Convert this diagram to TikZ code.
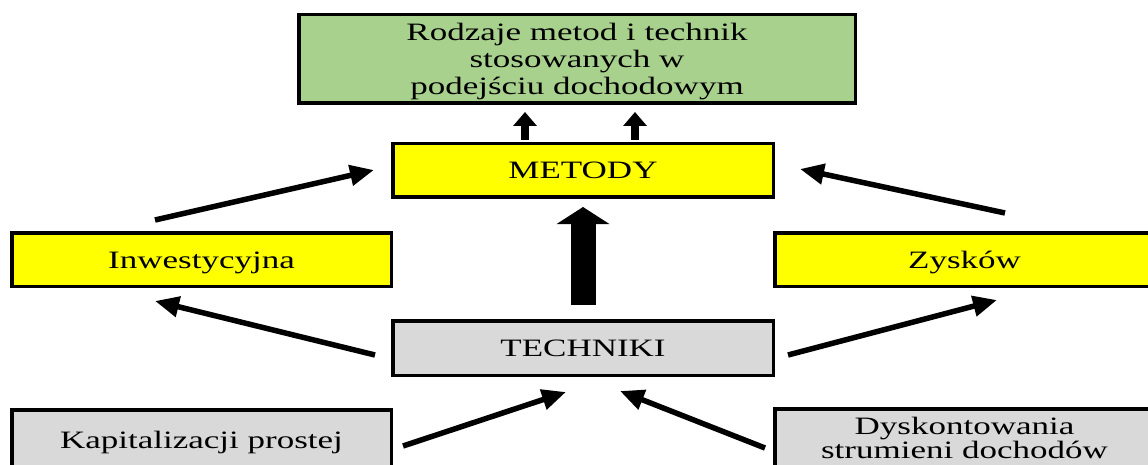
\documentclass[tikz,border=0pt]{standalone}
\usepackage{fontspec}
\setmainfont{Liberation Serif}[FakeStretch=1.4]
\usetikzlibrary{arrows.meta}
\definecolor{boxgreen}{HTML}{A9D18E}
\definecolor{boxyellow}{HTML}{FFFF00}
\definecolor{boxgray}{HTML}{D9D9D9}
\tikzset{
  box/.style={draw=black, line width=3.5pt, rectangle, inner sep=0pt,
    font=\fontsize{25}{27}\selectfont, align=center},
  onebox/.style={box, text height=17pt, text depth=0pt},
  diag/.style={line width=5.5pt, -{Triangle[length=24pt,width=20pt]}},
  small/.style={line width=8pt, -{Triangle[length=14pt,width=23pt]}},
  big/.style={line width=25pt, -{Triangle[length=17pt,width=52pt]}}
}
\begin{document}
\begin{tikzpicture}[x=1pt,y=-1pt]
\useasboundingbox (0,0) rectangle (1148,465);
\clip (0,0) rectangle (1148,465);
\node[box, fill=boxgreen, minimum width=556.5pt, minimum height=88.5pt] (goal) at (577,59)
  {\rule{0pt}{23pt}Rodzaje metod i technik\\stosowanych w\\podejściu dochodowym};
\node[onebox, fill=boxyellow, minimum width=380.5pt, minimum height=53.5pt] (metody) at (583,170.5) {METODY};
\node[onebox, fill=boxyellow, minimum width=379.5pt, minimum height=53.5pt] (inw) at (201.5,259.5) {Inwestycyjna};
\node[onebox, fill=boxyellow, minimum width=379.5pt, minimum height=53.5pt] (zys) at (964.5,259.5) {Zysków};
\node[onebox, fill=boxgray, minimum width=380.5pt, minimum height=54.5pt] (tech) at (583,348) {TECHNIKI};
\node[onebox, fill=boxgray, minimum width=379.5pt, minimum height=60.5pt] (kap) at (201.5,440) {Kapitalizacji prostej};
\node[box, fill=boxgray, font=\fontsize{25}{24.5}\selectfont, minimum width=379.5pt, minimum height=58.5pt] (dys) at (964.5,438) {Dyskontowania\\strumieni dochodów};
% connector end points
\coordinate (m1s) at (525,140); \coordinate (m1e) at (525,112);
\coordinate (m2s) at (635,140); \coordinate (m2e) at (635,112);
\coordinate (ts) at (583,305); \coordinate (te) at (583,207);
\coordinate (ims) at (155,220); \coordinate (ime) at (374,170);
\coordinate (zms) at (1005,213); \coordinate (zme) at (800,169);
\coordinate (tis) at (375,355); \coordinate (tie) at (155,301);
\coordinate (tzs) at (788,355); \coordinate (tze) at (997,300);
\coordinate (kts) at (403,446); \coordinate (kte) at (566,392);
\coordinate (dts) at (765,448); \coordinate (dte) at (620,391);
\draw[small] (m1s) -- (m1e);
\draw[small] (m2s) -- (m2e);
\draw[big] (ts) -- (te);
\draw[diag] (ims) -- (ime);
\draw[diag] (zms) -- (zme);
\draw[diag] (tis) -- (tie);
\draw[diag] (tzs) -- (tze);
\draw[diag] (kts) -- (kte);
\draw[diag] (dts) -- (dte);
\end{tikzpicture}
\end{document}
